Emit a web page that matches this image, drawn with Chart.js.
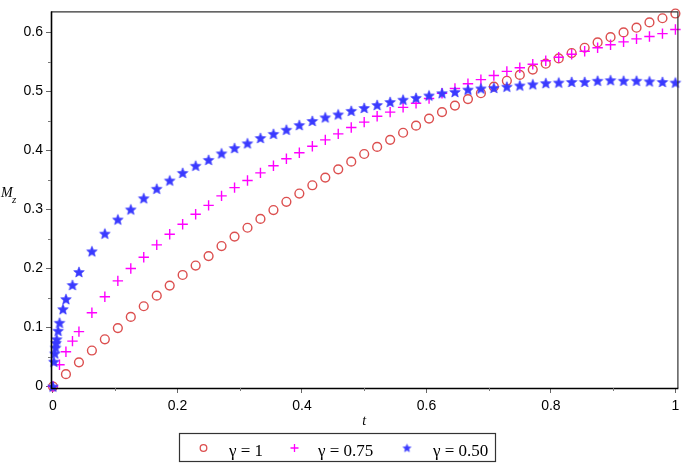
<!DOCTYPE html>
<html><head><meta charset="utf-8">
<script src="https://cdn.jsdelivr.net/npm/chart.js@4"></script>
<style>html,body{margin:0;padding:0;background:#fff}canvas{display:block}</style>
</head><body>
<canvas id="c" width="685" height="464"></canvas>
<script>
// ---- data ----
const tGrid = [0, 0.0208, 0.0417, 0.0625, 0.0833, 0.1042, 0.125, 0.1458, 0.1667, 0.1875,
  0.2083, 0.2292, 0.25, 0.2708, 0.2917, 0.3125, 0.3333, 0.3542, 0.375, 0.3958,
  0.4167, 0.4375, 0.4583, 0.4792, 0.5, 0.5208, 0.5417, 0.5625, 0.5833, 0.6042,
  0.625, 0.6458, 0.6667, 0.6875, 0.7083, 0.7292, 0.75, 0.7708, 0.7917, 0.8125,
  0.8333, 0.8542, 0.875, 0.8958, 0.9167, 0.9375, 0.9583, 0.9792, 1];

const tGamma1 = tGrid;
const mGamma1 = [0, 0.021, 0.041, 0.061, 0.080, 0.099, 0.118, 0.136, 0.154, 0.171,
  0.189, 0.205, 0.221, 0.238, 0.254, 0.269, 0.284, 0.299, 0.313, 0.327,
  0.341, 0.354, 0.368, 0.381, 0.394, 0.406, 0.418, 0.430, 0.442, 0.454,
  0.465, 0.476, 0.487, 0.497, 0.508, 0.518, 0.528, 0.537, 0.547, 0.556,
  0.565, 0.574, 0.583, 0.592, 0.600, 0.608, 0.617, 0.624, 0.632];

const tGamma075 = [0, 0.0104, 0.0208, 0.0313].concat(tGrid.slice(2));
const mGamma075 = [0, 0.037, 0.059, 0.077, 0.093, 0.125, 0.152, 0.179, 0.200, 0.219,
  0.240, 0.258, 0.275, 0.292, 0.307, 0.323, 0.337, 0.349, 0.362, 0.374,
  0.386, 0.396, 0.407, 0.418, 0.428, 0.439, 0.448, 0.458, 0.465, 0.473,
  0.480, 0.488, 0.497, 0.505, 0.513, 0.520, 0.527, 0.534, 0.540, 0.546,
  0.552, 0.558, 0.563, 0.568, 0.574, 0.579, 0.584, 0.589, 0.593, 0.598, 0.605];

const tGamma050 = [0, 0.0015, 0.003, 0.0042, 0.005, 0.006, 0.0083, 0.0105, 0.016, 0.0208, 0.0313].concat(tGrid.slice(2));
const mGamma050 = [0, 0.042, 0.056, 0.066, 0.074, 0.080, 0.0945, 0.108, 0.131, 0.148, 0.172,
  0.194, 0.229, 0.259, 0.283, 0.300, 0.319, 0.335, 0.349, 0.362, 0.374,
  0.384, 0.395, 0.404, 0.412, 0.421, 0.428, 0.435, 0.443, 0.450, 0.456,
  0.461, 0.467, 0.472, 0.477, 0.482, 0.486, 0.489, 0.493, 0.497, 0.499,
  0.503, 0.505, 0.506, 0.508, 0.510, 0.512, 0.514, 0.515, 0.516, 0.516,
  0.518, 0.519, 0.518, 0.518, 0.517, 0.516, 0.515];

const seriesLabels = ['γ = 1', 'γ = 0.75', 'γ = 0.50'];
const xTickValues = [0, 0.2, 0.4, 0.6, 0.8, 1];
const xTickLabels = ['0', '0.2', '0.4', '0.6', '0.8', '1'];
const xMinorTicks = [0.1, 0.3, 0.5, 0.7, 0.9];
const yTickValues = [0, 0.1, 0.2, 0.3, 0.4, 0.5, 0.6];
const yTickLabels = ['0', '0.1', '0.2', '0.3', '0.4', '0.5', '0.6'];
const yMinorTicks = [0.05, 0.15, 0.25, 0.35, 0.45, 0.55];
const xTitle = 't';
const yTitleMain = 'M';
const yTitleSub = 'z';

// ---- styling ----
const RED = '#dc4f4f', MAG = '#ff00ff', BLUE = '#3a3aff';

function starImage(r, color) {
  const s = Math.ceil(r * 2 + 2);
  const c = document.createElement('canvas');
  c.width = c.height = s;
  const g = c.getContext('2d');
  g.translate(s / 2, s / 2 + r * 0.08);
  g.beginPath();
  for (let i = 0; i < 10; i++) {
    const rr = i % 2 ? r * 0.45 : r;
    const a = -Math.PI / 2 + i * Math.PI / 5;
    g.lineTo(rr * Math.cos(a), rr * Math.sin(a));
  }
  g.closePath();
  g.fillStyle = color;
  g.fill();
  g.strokeStyle = color; g.lineWidth = 0.6; g.stroke();
  return c;
}
const starBig = starImage(5.6, BLUE);
const starSmall = starImage(4.2, BLUE);

function toPoints(ts, ms) { return ts.map((t, i) => ({ x: t, y: ms[i] })); }

const decor = {
  id: 'decor',
  afterDraw(chart) {
    const ctx = chart.ctx, a = chart.chartArea;
    const xs = chart.scales.x, ys = chart.scales.y;
    ctx.save();
    // frame
    ctx.strokeStyle = '#333'; ctx.lineWidth = 1.2;
    ctx.beginPath();
    ctx.moveTo(a.left, a.top + 0.5); ctx.lineTo(a.right - 0.5, a.top + 0.5); ctx.lineTo(a.right - 0.5, a.bottom);
    ctx.stroke();
    ctx.strokeStyle = '#000'; ctx.lineWidth = 1.6;
    ctx.beginPath();
    ctx.moveTo(a.left + 0.5, a.top); ctx.lineTo(a.left + 0.5, a.bottom + 0.5); ctx.lineTo(a.right, a.bottom + 0.5);
    ctx.stroke();
    // minor ticks
    ctx.strokeStyle = '#777'; ctx.lineWidth = 1;
    ctx.beginPath();
    yMinorTicks.forEach(v => { const y = Math.round(ys.getPixelForValue(v)) + 0.5; ctx.moveTo(a.left - 3, y); ctx.lineTo(a.left, y); });
    xMinorTicks.forEach(v => { const x = Math.round(xs.getPixelForValue(v)) + 0.5; ctx.moveTo(x, a.bottom); ctx.lineTo(x, a.bottom + 3); });
    ctx.stroke();
    // axis titles
    ctx.fillStyle = '#000';
    ctx.textBaseline = 'alphabetic';
    ctx.font = 'italic 14px "Liberation Serif"';
    ctx.textAlign = 'center';
    ctx.fillText(xTitle, (xs.getPixelForValue(0) + xs.getPixelForValue(1)) / 2, 425);
    ctx.textAlign = 'left';
    ctx.font = 'italic 14px "Liberation Serif"';
    ctx.fillText(yTitleMain, 1, 197);
    ctx.font = 'italic 11px "Liberation Serif"';
    ctx.fillText(yTitleSub, 12, 203);
    // legend
    ctx.strokeStyle = '#333'; ctx.lineWidth = 1.2;
    ctx.strokeRect(179.5, 433.5, 316, 28);
    const my = 448;
    ctx.strokeStyle = RED; ctx.lineWidth = 1.3;
    ctx.beginPath(); ctx.arc(203.5, my, 3.3, 0, Math.PI * 2); ctx.stroke();
    ctx.strokeStyle = MAG; ctx.lineWidth = 1.3;
    ctx.beginPath(); ctx.moveTo(290.5, my); ctx.lineTo(298.5, my); ctx.moveTo(294.5, my - 4); ctx.lineTo(294.5, my + 4); ctx.stroke();
    ctx.drawImage(starSmall, 407 - starSmall.width / 2, my - starSmall.height / 2);
    ctx.fillStyle = '#000';
    ctx.font = '17px "Liberation Serif"';
    const lx = [229, 318, 433];
    seriesLabels.forEach((s, i) => ctx.fillText(s, lx[i], 456));
    ctx.restore();
  }
};

new Chart(document.getElementById('c'), {
  type: 'scatter',
  data: {
    datasets: [
      { label: seriesLabels[0], data: toPoints(tGamma1, mGamma1), pointStyle: 'circle', pointRadius: 4.4,
        borderColor: RED, backgroundColor: 'rgba(0,0,0,0)', borderWidth: 1.4, showLine: false, clip: false, order: 3 },
      { label: seriesLabels[1], data: toPoints(tGamma075, mGamma075), pointStyle: 'cross', pointRadius: 5.2,
        borderColor: MAG, backgroundColor: MAG, borderWidth: 1.4, showLine: false, clip: false, order: 2 },
      { label: seriesLabels[2], data: toPoints(tGamma050, mGamma050), pointStyle: starBig, pointRadius: 5,
        borderColor: BLUE, backgroundColor: BLUE, showLine: false, clip: false, order: 1 }
    ]
  },
  options: {
    responsive: false, animation: false, events: [],
    layout: { padding: { top: 2, right: 2, left: 0, bottom: 0 } },
    plugins: { legend: { display: false }, tooltip: { enabled: false } },
    scales: {
      x: {
        type: 'linear', min: -0.0032, max: 1.0048,
        afterBuildTicks: s => { s.ticks = xTickValues.map(v => ({ value: v })); },
        afterFit: s => { s.height = 76; },
        ticks: { callback: (v, i) => xTickLabels[i], autoSkip: false, maxRotation: 0, padding: 5,
          color: '#000', font: { family: '"Liberation Sans"', size: 14 } },
        grid: { display: true, drawOnChartArea: false, drawTicks: true, tickLength: 5, color: '#666' },
        border: { display: false }
      },
      y: {
        type: 'linear', min: -0.0025, max: 0.6356,
        afterBuildTicks: s => { s.ticks = yTickValues.map(v => ({ value: v })); },
        afterFit: s => { s.width = 51; },
        ticks: { callback: (v, i) => yTickLabels[i], autoSkip: false, padding: 3,
          color: '#000', font: { family: '"Liberation Sans"', size: 14 } },
        grid: { display: true, drawOnChartArea: false, drawTicks: true, tickLength: 5, color: '#666' },
        border: { display: false }
      }
    }
  },
  plugins: [decor]
});
</script>
</body></html>
